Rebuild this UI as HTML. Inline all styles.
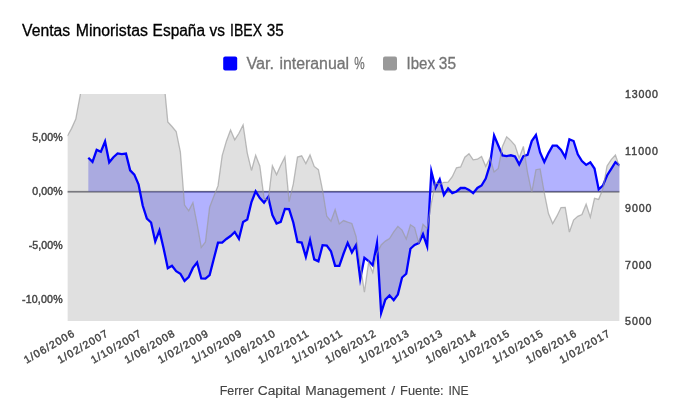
<!DOCTYPE html>
<html lang="es">
<head>
<meta charset="utf-8">
<title>Ventas Minoristas España vs IBEX 35</title>
<style>
html,body{margin:0;padding:0;background:#fff;}
body{width:680px;height:420px;overflow:hidden;}
svg{display:block;font-family:"Liberation Sans", sans-serif;}
</style>
</head>
<body>
<svg width="680" height="420" viewBox="0 0 680 420">
<defs><clipPath id="plot"><rect x="67.4" y="94" width="552.2" height="227"/></clipPath></defs>
<rect width="680" height="420" fill="#ffffff"/>
<g class="title">
<text y="36.1" font-size="15.6" fill="#000" stroke="#000" stroke-width="0.3"><tspan x="22.1" textLength="48.1" lengthAdjust="spacingAndGlyphs">Ventas</tspan> <tspan x="75.7" textLength="72.2" lengthAdjust="spacingAndGlyphs">Minoristas</tspan> <tspan x="152.6" textLength="52.5" lengthAdjust="spacingAndGlyphs">España</tspan> <tspan x="209.5" textLength="15.4" lengthAdjust="spacingAndGlyphs">vs</tspan> <tspan x="230" textLength="32" lengthAdjust="spacingAndGlyphs">IBEX</tspan> <tspan x="266.8" textLength="17" lengthAdjust="spacingAndGlyphs">35</tspan></text>
</g>
<g class="legend">
<rect x="223.2" y="56.6" width="14" height="14" rx="2" ry="2" fill="#0000ff"/>
<rect x="383" y="56.6" width="14" height="14" rx="2" ry="2" fill="#999999"/>
<text y="68.8" font-size="15.6" fill="#757575" stroke="#757575" stroke-width="0.3"><tspan x="246.5" textLength="27.6" lengthAdjust="spacingAndGlyphs">Var.</tspan> <tspan x="279.4" textLength="69.7" lengthAdjust="spacingAndGlyphs">interanual</tspan> <tspan x="354.3" textLength="10.4" lengthAdjust="spacingAndGlyphs">%</tspan></text>
<text y="68.8" font-size="15.6" fill="#757575" stroke="#757575" stroke-width="0.3"><tspan x="406.5" textLength="28.4" lengthAdjust="spacingAndGlyphs">Ibex</tspan> <tspan x="438.8" textLength="17.2" lengthAdjust="spacingAndGlyphs">35</tspan></text>
</g>
<g class="plot" clip-path="url(#plot)">
<rect x="67.4" y="190.9" width="552.2" height="1.7" fill="#333340" fill-opacity="0.72"/>
<path d="M88.32,157.75 L92.5,161.85 L96.68,149.83 L100.87,151.7 L105.05,141.49 L109.23,162.3 L113.42,157.25 L117.6,153.45 L121.78,154.05 L125.97,153.61 L130.15,170.4 L134.33,174.6 L138.52,184.4 L142.7,205.5 L146.88,218.5 L151.07,222.5 L155.25,241.43 L159.43,230.51 L163.62,248.4 L167.8,268.23 L171.98,265.81 L176.17,271.25 L180.35,273.75 L184.53,280.83 L188.72,277 L192.9,267.9 L197.08,262.46 L201.27,278.5 L205.45,278.65 L209.63,275 L213.82,258.75 L218,242.66 L222.18,242.7 L226.37,239 L230.55,236 L234.73,232.01 L238.92,238.74 L243.1,221.9 L247.28,219.4 L251.47,202 L255.65,191.39 L259.83,198.1 L264.02,202.6 L268.2,196.91 L272.38,215 L276.57,223.52 L280.75,221.9 L284.93,208.91 L289.12,209.1 L293.3,222.5 L297.48,241.9 L301.67,242.5 L305.85,256.91 L310.03,240.1 L314.22,259.4 L318.4,261.4 L322.58,245.2 L326.77,245.6 L330.95,251.25 L335.13,265.8 L339.32,265.86 L343.5,253.75 L347.68,242.9 L351.87,252.35 L356.05,245.08 L360.23,278.9 L364.42,257.78 L368.6,261 L372.78,265.27 L376.97,243.2 L381.15,313 L385.33,299.6 L389.52,295.33 L393.7,300.16 L397.88,294.4 L402.07,277.5 L406.25,273.75 L410.43,248.75 L414.62,245 L418.8,243.1 L422.98,234.15 L427.17,246.38 L431.35,171.2 L435.53,187.7 L439.72,179.4 L443.9,194.9 L448.08,188.5 L452.27,193.12 L456.45,191.5 L460.63,188 L464.82,187.8 L469,189.9 L473.18,193.18 L477.37,188 L481.55,185.5 L485.73,178.6 L489.92,164.9 L494.1,135.57 L498.28,145.5 L502.47,155.5 L506.65,156.05 L510.83,155.3 L515.02,156.5 L519.2,164.38 L523.38,156.1 L527.57,154.9 L531.75,141.1 L535.93,135.1 L540.12,152.5 L544.3,162.01 L548.48,153.1 L552.67,145.6 L556.85,145.6 L561.03,150 L565.22,157.2 L569.4,139.36 L573.58,141 L577.77,154.25 L581.95,161.1 L586.13,164.92 L590.32,162.24 L594.5,168.5 L598.68,189.4 L602.87,185.6 L607.05,175.5 L611.23,168.8 L615.42,162.25 L619.6,165.3 L619.6,191.6 L88.32,191.6 Z" fill="#0000ff" fill-opacity="0.3"/>
<path d="M67.4,136 L71.58,128.34 L75.77,119.07 L79.95,96.65 L84.13,73.43 L88.32,70.7 L92.5,62.27 L96.68,50.73 L100.87,59.38 L105.05,48.22 L109.23,55.8 L113.42,28.7 L117.6,41.11 L121.78,43.66 L125.97,52.81 L130.15,50.07 L134.33,12.78 L138.52,16.49 L142.7,32.88 L146.88,88.3 L151.07,89.96 L155.25,87.17 L159.43,72.15 L163.62,77.75 L167.8,121.86 L171.98,126.54 L176.17,131.48 L180.35,151.9 L184.53,205.01 L188.72,210.84 L192.9,202.74 L197.08,223.89 L201.27,247.43 L205.45,241.92 L209.63,207.22 L213.82,196.26 L218,185.95 L222.18,155.66 L226.37,141.19 L230.55,130.1 L234.73,139.78 L238.92,133.26 L243.1,124.88 L247.28,153.03 L251.47,170.46 L255.65,155.2 L259.83,165.96 L264.02,198.1 L268.2,200.83 L272.38,165.74 L276.57,174.62 L280.75,165.33 L284.93,156.86 L289.12,201.6 L293.3,183.92 L297.48,157.05 L301.67,155.78 L305.85,163.57 L310.03,154.99 L314.22,166.42 L318.4,169.71 L322.58,190.4 L326.77,216.28 L330.95,221.17 L335.13,209.58 L339.32,223.92 L343.5,220.61 L347.68,222.23 L351.87,223.46 L356.05,236.45 L360.23,264.74 L364.42,292.2 L368.6,262.15 L372.78,272.48 L376.97,253.12 L381.15,244.95 L385.33,241.13 L389.52,238.53 L393.7,231.92 L397.88,226.39 L402.07,230.14 L406.25,238.94 L410.43,224.79 L414.62,227.58 L418.8,243.41 L422.98,224.38 L427.17,228.43 L431.35,203.02 L435.53,182.54 L439.72,184.53 L443.9,182.29 L448.08,182.19 L452.27,176.68 L456.45,167.8 L460.63,166.9 L464.82,157.26 L469,153.72 L473.18,159.86 L477.37,159.25 L481.55,156.5 L485.73,166.37 L489.92,158.06 L494.1,171.99 L498.28,168.48 L502.47,146.49 L506.65,136.76 L510.83,140.63 L515.02,145.38 L519.2,158.09 L523.38,146.42 L527.57,172.58 L531.75,192.41 L535.93,169.69 L540.12,168.95 L544.3,192.86 L548.48,213.53 L552.67,223.58 L556.85,216.16 L561.03,207.57 L565.22,207.34 L569.4,232.04 L573.58,220.01 L577.77,216.34 L581.95,214.56 L586.13,204.23 L590.32,217.15 L594.5,198.31 L598.68,199.36 L602.87,188.8 L607.05,165.9 L611.23,159.61 L615.42,154.96 L619.6,167.31 L619.6,321 L67.4,321 Z" fill="#999999" fill-opacity="0.3"/>
<path d="M88.32,157.75 L92.5,161.85 L96.68,149.83 L100.87,151.7 L105.05,141.49 L109.23,162.3 L113.42,157.25 L117.6,153.45 L121.78,154.05 L125.97,153.61 L130.15,170.4 L134.33,174.6 L138.52,184.4 L142.7,205.5 L146.88,218.5 L151.07,222.5 L155.25,241.43 L159.43,230.51 L163.62,248.4 L167.8,268.23 L171.98,265.81 L176.17,271.25 L180.35,273.75 L184.53,280.83 L188.72,277 L192.9,267.9 L197.08,262.46 L201.27,278.5 L205.45,278.65 L209.63,275 L213.82,258.75 L218,242.66 L222.18,242.7 L226.37,239 L230.55,236 L234.73,232.01 L238.92,238.74 L243.1,221.9 L247.28,219.4 L251.47,202 L255.65,191.39 L259.83,198.1 L264.02,202.6 L268.2,196.91 L272.38,215 L276.57,223.52 L280.75,221.9 L284.93,208.91 L289.12,209.1 L293.3,222.5 L297.48,241.9 L301.67,242.5 L305.85,256.91 L310.03,240.1 L314.22,259.4 L318.4,261.4 L322.58,245.2 L326.77,245.6 L330.95,251.25 L335.13,265.8 L339.32,265.86 L343.5,253.75 L347.68,242.9 L351.87,252.35 L356.05,245.08 L360.23,278.9 L364.42,257.78 L368.6,261 L372.78,265.27 L376.97,243.2 L381.15,313 L385.33,299.6 L389.52,295.33 L393.7,300.16 L397.88,294.4 L402.07,277.5 L406.25,273.75 L410.43,248.75 L414.62,245 L418.8,243.1 L422.98,234.15 L427.17,246.38 L431.35,171.2 L435.53,187.7 L439.72,179.4 L443.9,194.9 L448.08,188.5 L452.27,193.12 L456.45,191.5 L460.63,188 L464.82,187.8 L469,189.9 L473.18,193.18 L477.37,188 L481.55,185.5 L485.73,178.6 L489.92,164.9 L494.1,135.57 L498.28,145.5 L502.47,155.5 L506.65,156.05 L510.83,155.3 L515.02,156.5 L519.2,164.38 L523.38,156.1 L527.57,154.9 L531.75,141.1 L535.93,135.1 L540.12,152.5 L544.3,162.01 L548.48,153.1 L552.67,145.6 L556.85,145.6 L561.03,150 L565.22,157.2 L569.4,139.36 L573.58,141 L577.77,154.25 L581.95,161.1 L586.13,164.92 L590.32,162.24 L594.5,168.5 L598.68,189.4 L602.87,185.6 L607.05,175.5 L611.23,168.8 L615.42,162.25 L619.6,165.3" fill="none" stroke="#0000ff" stroke-width="2.3" stroke-linejoin="miter" stroke-miterlimit="10"/>
<path d="M67.4,136 L71.58,128.34 L75.77,119.07 L79.95,96.65 L84.13,73.43 L88.32,70.7 L92.5,62.27 L96.68,50.73 L100.87,59.38 L105.05,48.22 L109.23,55.8 L113.42,28.7 L117.6,41.11 L121.78,43.66 L125.97,52.81 L130.15,50.07 L134.33,12.78 L138.52,16.49 L142.7,32.88 L146.88,88.3 L151.07,89.96 L155.25,87.17 L159.43,72.15 L163.62,77.75 L167.8,121.86 L171.98,126.54 L176.17,131.48 L180.35,151.9 L184.53,205.01 L188.72,210.84 L192.9,202.74 L197.08,223.89 L201.27,247.43 L205.45,241.92 L209.63,207.22 L213.82,196.26 L218,185.95 L222.18,155.66 L226.37,141.19 L230.55,130.1 L234.73,139.78 L238.92,133.26 L243.1,124.88 L247.28,153.03 L251.47,170.46 L255.65,155.2 L259.83,165.96 L264.02,198.1 L268.2,200.83 L272.38,165.74 L276.57,174.62 L280.75,165.33 L284.93,156.86 L289.12,201.6 L293.3,183.92 L297.48,157.05 L301.67,155.78 L305.85,163.57 L310.03,154.99 L314.22,166.42 L318.4,169.71 L322.58,190.4 L326.77,216.28 L330.95,221.17 L335.13,209.58 L339.32,223.92 L343.5,220.61 L347.68,222.23 L351.87,223.46 L356.05,236.45 L360.23,264.74 L364.42,292.2 L368.6,262.15 L372.78,272.48 L376.97,253.12 L381.15,244.95 L385.33,241.13 L389.52,238.53 L393.7,231.92 L397.88,226.39 L402.07,230.14 L406.25,238.94 L410.43,224.79 L414.62,227.58 L418.8,243.41 L422.98,224.38 L427.17,228.43 L431.35,203.02 L435.53,182.54 L439.72,184.53 L443.9,182.29 L448.08,182.19 L452.27,176.68 L456.45,167.8 L460.63,166.9 L464.82,157.26 L469,153.72 L473.18,159.86 L477.37,159.25 L481.55,156.5 L485.73,166.37 L489.92,158.06 L494.1,171.99 L498.28,168.48 L502.47,146.49 L506.65,136.76 L510.83,140.63 L515.02,145.38 L519.2,158.09 L523.38,146.42 L527.57,172.58 L531.75,192.41 L535.93,169.69 L540.12,168.95 L544.3,192.86 L548.48,213.53 L552.67,223.58 L556.85,216.16 L561.03,207.57 L565.22,207.34 L569.4,232.04 L573.58,220.01 L577.77,216.34 L581.95,214.56 L586.13,204.23 L590.32,217.15 L594.5,198.31 L598.68,199.36 L602.87,188.8 L607.05,165.9 L611.23,159.61 L615.42,154.96 L619.6,167.31" fill="none" stroke="#999999" stroke-width="1.3" stroke-opacity="0.65"/>
</g>
<g class="yaxis-left">
<text x="32.2" y="141.3" font-size="10.6" fill="#444" stroke="#444" stroke-width="0.42" textLength="30.4" lengthAdjust="spacing">5,00%</text>
<text x="32.2" y="195.3" font-size="10.6" fill="#444" stroke="#444" stroke-width="0.42" textLength="30.4" lengthAdjust="spacing">0,00%</text>
<text x="28.7" y="249.3" font-size="10.6" fill="#444" stroke="#444" stroke-width="0.42" textLength="33.9" lengthAdjust="spacing">-5,00%</text>
<text x="21.9" y="303.3" font-size="10.6" fill="#444" stroke="#444" stroke-width="0.42" textLength="40.7" lengthAdjust="spacing">-10,00%</text>
</g>
<g class="yaxis-right">
<text x="625.1" y="98.3" font-size="10.6" fill="#444" stroke="#444" stroke-width="0.42" textLength="32.8" lengthAdjust="spacing">13000</text>
<text x="625.1" y="155.05" font-size="10.6" fill="#444" stroke="#444" stroke-width="0.42" textLength="32.8" lengthAdjust="spacing">11000</text>
<text x="625.1" y="211.8" font-size="10.6" fill="#444" stroke="#444" stroke-width="0.42" textLength="26.4" lengthAdjust="spacing">9000</text>
<text x="625.1" y="268.55" font-size="10.6" fill="#444" stroke="#444" stroke-width="0.42" textLength="26.4" lengthAdjust="spacing">7000</text>
<text x="625.1" y="325.3" font-size="10.6" fill="#444" stroke="#444" stroke-width="0.42" textLength="26.4" lengthAdjust="spacing">5000</text>
</g>
<g class="xaxis">
<text transform="translate(75.05 335.8) rotate(-30)" font-size="10.6" fill="#444" text-anchor="end" stroke="#444" stroke-width="0.42" textLength="56.0" lengthAdjust="spacing">1/06/2006</text>
<text transform="translate(108.52 335.8) rotate(-30)" font-size="10.6" fill="#444" text-anchor="end" stroke="#444" stroke-width="0.42" textLength="56.0" lengthAdjust="spacing">1/02/2007</text>
<text transform="translate(141.98 335.8) rotate(-30)" font-size="10.6" fill="#444" text-anchor="end" stroke="#444" stroke-width="0.42" textLength="56.0" lengthAdjust="spacing">1/10/2007</text>
<text transform="translate(175.45 335.8) rotate(-30)" font-size="10.6" fill="#444" text-anchor="end" stroke="#444" stroke-width="0.42" textLength="56.0" lengthAdjust="spacing">1/06/2008</text>
<text transform="translate(208.92 335.8) rotate(-30)" font-size="10.6" fill="#444" text-anchor="end" stroke="#444" stroke-width="0.42" textLength="56.0" lengthAdjust="spacing">1/02/2009</text>
<text transform="translate(242.38 335.8) rotate(-30)" font-size="10.6" fill="#444" text-anchor="end" stroke="#444" stroke-width="0.42" textLength="56.0" lengthAdjust="spacing">1/10/2009</text>
<text transform="translate(275.85 335.8) rotate(-30)" font-size="10.6" fill="#444" text-anchor="end" stroke="#444" stroke-width="0.42" textLength="56.0" lengthAdjust="spacing">1/06/2010</text>
<text transform="translate(309.32 335.8) rotate(-30)" font-size="10.6" fill="#444" text-anchor="end" stroke="#444" stroke-width="0.42" textLength="56.0" lengthAdjust="spacing">1/02/2011</text>
<text transform="translate(342.78 335.8) rotate(-30)" font-size="10.6" fill="#444" text-anchor="end" stroke="#444" stroke-width="0.42" textLength="56.0" lengthAdjust="spacing">1/10/2011</text>
<text transform="translate(376.25 335.8) rotate(-30)" font-size="10.6" fill="#444" text-anchor="end" stroke="#444" stroke-width="0.42" textLength="56.0" lengthAdjust="spacing">1/06/2012</text>
<text transform="translate(409.72 335.8) rotate(-30)" font-size="10.6" fill="#444" text-anchor="end" stroke="#444" stroke-width="0.42" textLength="56.0" lengthAdjust="spacing">1/02/2013</text>
<text transform="translate(443.18 335.8) rotate(-30)" font-size="10.6" fill="#444" text-anchor="end" stroke="#444" stroke-width="0.42" textLength="56.0" lengthAdjust="spacing">1/10/2013</text>
<text transform="translate(476.65 335.8) rotate(-30)" font-size="10.6" fill="#444" text-anchor="end" stroke="#444" stroke-width="0.42" textLength="56.0" lengthAdjust="spacing">1/06/2014</text>
<text transform="translate(510.12 335.8) rotate(-30)" font-size="10.6" fill="#444" text-anchor="end" stroke="#444" stroke-width="0.42" textLength="56.0" lengthAdjust="spacing">1/02/2015</text>
<text transform="translate(543.58 335.8) rotate(-30)" font-size="10.6" fill="#444" text-anchor="end" stroke="#444" stroke-width="0.42" textLength="56.0" lengthAdjust="spacing">1/10/2015</text>
<text transform="translate(577.05 335.8) rotate(-30)" font-size="10.6" fill="#444" text-anchor="end" stroke="#444" stroke-width="0.42" textLength="56.0" lengthAdjust="spacing">1/06/2016</text>
<text transform="translate(610.52 335.8) rotate(-30)" font-size="10.6" fill="#444" text-anchor="end" stroke="#444" stroke-width="0.42" textLength="56.0" lengthAdjust="spacing">1/02/2017</text>
</g>
<g class="footer">
<text y="394.7" font-size="13.7" fill="#444" stroke="#444" stroke-width="0.15"><tspan x="219.7" textLength="33.9" lengthAdjust="spacingAndGlyphs">Ferrer</tspan> <tspan x="257.8" textLength="42.8" lengthAdjust="spacingAndGlyphs">Capital</tspan> <tspan x="305.3" textLength="80.4" lengthAdjust="spacingAndGlyphs">Management</tspan> <tspan x="391.3">/</tspan> <tspan x="400.1" textLength="43.5" lengthAdjust="spacingAndGlyphs">Fuente:</tspan> <tspan x="448.5" textLength="20.2" lengthAdjust="spacingAndGlyphs">INE</tspan></text>
</g>
</svg>
</body>
</html>
